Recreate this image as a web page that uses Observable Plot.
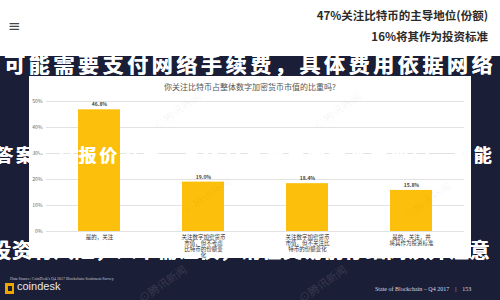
<!DOCTYPE html>
<html><head><meta charset="utf-8">
<script src="https://cdn.jsdelivr.net/npm/d3@7"></script>
<script src="https://cdn.jsdelivr.net/npm/@observablehq/plot@0.6"></script>
<style>
html,body{margin:0;padding:0;background:#1b1e37;}
#page{position:relative;width:500px;height:300px;background:#1b1e37;overflow:hidden;font-family:"Noto Sans CJK SC",sans-serif;}
#header{position:absolute;left:0;top:0;width:500px;height:56px;background:#fff;}
#menu{position:absolute;left:8px;top:19px;font-size:15px;color:#444;font-family:"DejaVu Sans",sans-serif;line-height:1;}
.hl{position:absolute;right:12px;font-size:11.5px;font-weight:700;color:#2a2a2a;white-space:nowrap;line-height:1;}
#panel{position:absolute;left:29px;top:76px;width:442px;height:182px;background:#fff;z-index:2;}
#panel svg{position:absolute;left:0;top:0;}
#title{position:absolute;left:0;top:5px;width:442px;text-align:center;font-size:8px;color:#555;white-space:nowrap;}
.brush{position:absolute;color:#fff;font-weight:700;white-space:nowrap;line-height:1;font-family:"Noto Sans CJK SC",serif;text-shadow:0.5px 0.3px 0 #fff;z-index:1;}
.top{z-index:3;}
.wm{position:absolute;font-size:11px;white-space:nowrap;transform:rotate(-35deg);z-index:4;line-height:1;pointer-events:none;}
.wl{color:rgba(0,0,0,0.05);}
.wd{color:rgba(255,255,255,0.13);}
#src{position:absolute;left:10px;top:276px;font-size:4px;color:#c8c8d0;white-space:nowrap;font-family:"Liberation Serif",serif;}
#logo{position:absolute;left:5px;top:283px;width:9px;height:11px;background:#f0a500;}
#logo::after{content:"";position:absolute;left:3px;top:3px;width:4px;height:5px;background:#1b1e37;}
#cd{position:absolute;left:17px;top:281px;font-size:11px;color:#e8e8ee;font-family:"Liberation Sans",sans-serif;white-space:nowrap;line-height:1;}
#sob{position:absolute;left:375px;top:286px;font-size:6px;color:#d8d8e0;font-family:"Liberation Serif",serif;white-space:nowrap;}
</style></head>
<body>
<div id="page">
  <div id="header">
    <div id="menu">≡</div>
    <div class="hl" style="top:10px">47%关注比特币的主导地位(份额)</div>
    <div class="hl" style="top:31px">16%将其作为投资标准</div>
  </div>
  <div class="brush" style="left:4px;top:53px;font-size:21px;letter-spacing:3.6px;">可能需要支付网络手续费，具体费用依据网络</div>
  <div id="panel"><div id="title">你关注比特币占整体数字加密货币市值的比重吗?</div></div>
  <div class="brush top" style="left:-5px;top:145px;font-size:18px;letter-spacing:2.8px;">答案：以报价为准，具体交易费用会因平台而异，可能</div>
  <div class="brush" style="left:-9px;top:240px;font-size:20px;letter-spacing:0.8px;">投资有风险，入市需谨慎，请在交易前仔细阅读并注意</div>
  <div class="wm wl" style="left:150px;top:105px;">⊙腾讯新闻</div>
  <div class="wm wl" style="left:310px;top:105px;">⊙腾讯新闻</div>
  <div class="wm wl" style="left:180px;top:190px;">⊙腾讯新闻</div>
  <div class="wm wl" style="left:400px;top:195px;">⊙腾讯新闻</div>
  <div class="wm wd" style="left:135px;top:278px;">⊙腾讯新闻</div>
  <div class="wm wd" style="left:295px;top:278px;">⊙腾讯新闻</div>
  <div id="src">Data Source: CoinDesk's Q4 2017 Blockchain Sentiment Survey</div>
  <div id="logo"></div>
  <div id="cd">coindesk</div>
  <div id="sob">State of Blockchain – Q4 2017 &nbsp;&nbsp;&nbsp;|&nbsp;&nbsp;&nbsp; 153</div>
</div>
<script>
const categories = [
  "是的，关注",
  "关注数字加密货币\n市值，但不考虑\n比特币的份额变\n化",
  "关注数字加密货币\n市值，但不关注比\n特币的份额变化",
  "是的，关注，并\n将其作为投资标准"
];
const shares = [46.8, 19.0, 18.4, 15.8];
const yTicks = [0, 10, 20, 30, 40, 50];
const data = categories.map((c, i) => ({category: c, share: shares[i]}));

const chart = Plot.plot({
  width: 442, height: 182,
  marginTop: 25, marginBottom: 27, marginLeft: 17, marginRight: 7,
  style: {background: "transparent", fontFamily: "Noto Sans CJK SC", fontSize: "5px"},
  x: {domain: categories, paddingInner: 0.6, paddingOuter: 0.3, label: null},
  y: {domain: [0, 50], label: null},
  marks: [
    Plot.gridY(yTicks, {stroke: "#e2e2e2", strokeOpacity: 1}),
    Plot.axisY(yTicks, {tickSize: 0, tickPadding: 4, tickFormat: d => d + "%", fill: "#666", fontSize: 5, label: null}),
    Plot.barY(data, {x: "category", y: "share", fill: "#fcc00c"}),
    Plot.text(data, {x: "category", y: "share", text: d => d.share.toFixed(1) + "%", dy: -5, fontSize: 5, fontWeight: "bold", fill: "#444"}),
    Plot.axisX({tickSize: 0, tickPadding: 3, fontSize: 5.5, fill: "#333", lineHeight: 1.1, label: null})
  ]
});
document.getElementById("panel").appendChild(chart);
</script>
</body></html>
